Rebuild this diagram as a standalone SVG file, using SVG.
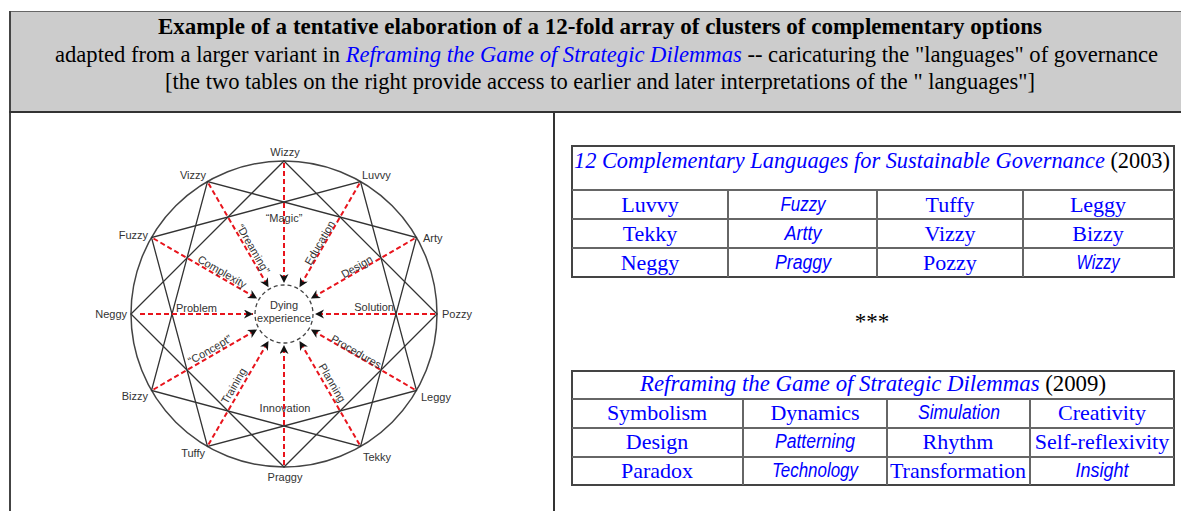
<svg xmlns="http://www.w3.org/2000/svg" width="1181" height="511" viewBox="0 0 1181 511">
<style>
.hd{font-family:"Liberation Serif","Times New Roman",serif;font-size:23px;fill:#000}
.lk{fill:#0000ff;font-style:italic}
.lb{font-family:"Liberation Sans",Arial,sans-serif;font-size:11px;fill:#333}
.cell{font-family:"Liberation Serif","Times New Roman",serif;font-size:22px;fill:#0000ff;text-anchor:middle}
.ci{font-family:"Liberation Sans",Arial,sans-serif;font-size:20px;font-style:italic;fill:#0000ff;text-anchor:middle}
.grid{stroke:#666;stroke-width:2;fill:none}
.frame{stroke:#444;stroke-width:2;fill:none}
.sq{fill:none;stroke:#333;stroke-width:1.3}
.rd{stroke:#e8141c;stroke-width:2;stroke-dasharray:5 3;fill:none;marker-end:url(#ah)}
</style>
<defs>
<marker id="ah" markerUnits="userSpaceOnUse" markerWidth="10" markerHeight="10" refX="9" refY="4.5" orient="auto">
<path d="M0,0 L9,4.5 L0,9 L2.6,4.5 Z" fill="#111"/>
</marker>
</defs>
<rect width="1181" height="511" fill="#fff"/>
<g id="frame">
<rect x="9" y="11" width="1172" height="101" fill="#cccccc"/>
<line x1="9" y1="11.5" x2="1181" y2="11.5" stroke="#666" stroke-width="1"/>
<line x1="10" y1="11" x2="10" y2="511" stroke="#444" stroke-width="2"/>
<line x1="9" y1="112" x2="1181" y2="112" stroke="#333" stroke-width="2"/>
<line x1="554" y1="113" x2="554" y2="511" stroke="#333" stroke-width="2"/>
</g>
<g id="header">
<text class="hd" x="158" y="34" font-weight="bold" textLength="884" lengthAdjust="spacingAndGlyphs">Example of a tentative elaboration of a 12-fold array of clusters of complementary options</text>
<text class="hd" x="55" y="62" textLength="1103" lengthAdjust="spacingAndGlyphs">adapted from a larger variant in <tspan class="lk">Reframing the Game of Strategic Dilemmas</tspan> -- caricaturing the "languages" of governance</text>
<text class="hd" x="165" y="89" textLength="870" lengthAdjust="spacingAndGlyphs">[the two tables on the right provide access to earlier and later interpretations of the " languages"]</text>
</g>
<g id="wheel">
<circle cx="284" cy="314" r="153" fill="none" stroke="#444" stroke-width="1.5"/>
<polygon class="sq" points="284,161 437,314 284,467 131,314"/>
<polygon class="sq" points="360.5,181.5 416.5,390.5 207.5,446.5 151.5,237.5"/>
<polygon class="sq" points="416.5,237.5 360.5,446.5 151.5,390.5 207.5,181.5"/>
<circle cx="284" cy="314" r="29" fill="none" stroke="#444" stroke-width="1.3" stroke-dasharray="4 3"/>
</g>
<g id="connectors">
<line class="rd" x1="284" y1="163" x2="284" y2="283"/>
<line class="rd" x1="359.5" y1="183.5" x2="299.5" y2="287.2"/>
<line class="rd" x1="414.5" y1="238.5" x2="310.9" y2="298.5"/>
<line class="rd" x1="435" y1="314" x2="315" y2="314"/>
<line class="rd" x1="414.5" y1="389.5" x2="310.9" y2="329.5"/>
<line class="rd" x1="359.5" y1="444.5" x2="299.5" y2="340.9"/>
<line class="rd" x1="284" y1="465" x2="284" y2="345"/>
<line class="rd" x1="208.5" y1="444.5" x2="268.5" y2="340.9"/>
<line class="rd" x1="153.5" y1="389.5" x2="257.1" y2="329.5"/>
<line class="rd" x1="140" y1="314" x2="253" y2="314"/>
<line class="rd" x1="153.5" y1="238.5" x2="257.1" y2="298.5"/>
<line class="rd" x1="208.5" y1="183.5" x2="268.5" y2="287.2"/>
</g>
<g id="labels">
<text class="lb" x="285" y="156" text-anchor="middle">Wizzy</text>
<text class="lb" x="362" y="179">Luvvy</text>
<text class="lb" x="423" y="242">Arty</text>
<text class="lb" x="442" y="318">Pozzy</text>
<text class="lb" x="421" y="401">Leggy</text>
<text class="lb" x="363" y="461">Tekky</text>
<text class="lb" x="285" y="481" text-anchor="middle">Praggy</text>
<text class="lb" x="205" y="457" text-anchor="end">Tuffy</text>
<text class="lb" x="148" y="400" text-anchor="end">Bizzy</text>
<text class="lb" x="127" y="318" text-anchor="end">Neggy</text>
<text class="lb" x="148" y="239" text-anchor="end">Fuzzy</text>
<text class="lb" x="206" y="179" text-anchor="end">Vizzy</text>
<text class="lb" x="284" y="222" text-anchor="middle">“Magic”</text>
<text class="lb" x="176" y="312">Problem</text>
<text class="lb" x="394" y="311" text-anchor="end">Solution</text>
<text class="lb" x="285" y="412" text-anchor="middle">Innovation</text>
<text class="lb" x="284" y="309" text-anchor="middle">Dying</text>
<text class="lb" x="284" y="322" text-anchor="middle">experience</text>
<text class="lb" text-anchor="middle" transform="translate(253,249) rotate(60)" y="3.5">“Dreaming”</text>
<text class="lb" text-anchor="middle" transform="translate(222,272) rotate(30)" y="3.5">Complexity</text>
<text class="lb" text-anchor="middle" transform="translate(320,243) rotate(-60)" y="3.5">Education</text>
<text class="lb" text-anchor="middle" transform="translate(357,267) rotate(-30)" y="3.5">Design</text>
<text class="lb" text-anchor="middle" transform="translate(356,352) rotate(30)" y="3.5">Procedures</text>
<text class="lb" text-anchor="middle" transform="translate(332,383) rotate(60)" y="3.5">Planning</text>
<text class="lb" text-anchor="middle" transform="translate(234,386) rotate(-60)" y="3.5">Training</text>
<text class="lb" text-anchor="middle" transform="translate(210,350) rotate(-30)" y="3.5">“Concept”</text>
</g>
<g id="table2003">
<rect class="frame" x="572" y="146" width="602" height="131"/>
<line class="grid" x1="572" y1="190" x2="1174" y2="190"/>
<line class="grid" x1="572" y1="219" x2="1174" y2="219"/>
<line class="grid" x1="572" y1="248" x2="1174" y2="248"/>
<line class="grid" x1="728" y1="190" x2="728" y2="277"/>
<line class="grid" x1="877" y1="190" x2="877" y2="277"/>
<line class="grid" x1="1023" y1="190" x2="1023" y2="277"/>
<text class="hd" x="574" y="168" font-size="22" textLength="596" lengthAdjust="spacingAndGlyphs"><tspan class="lk">12 Complementary Languages for Sustainable Governance</tspan> (2003)</text>
<text class="cell" x="650" y="212">Luvvy</text>
<text class="ci" x="803" y="211" textLength="45" lengthAdjust="spacingAndGlyphs">Fuzzy</text>
<text class="cell" x="950" y="212">Tuffy</text>
<text class="cell" x="1098" y="212">Leggy</text>
<text class="cell" x="650" y="241">Tekky</text>
<text class="ci" x="803" y="240" textLength="37" lengthAdjust="spacingAndGlyphs">Artty</text>
<text class="cell" x="950" y="241">Vizzy</text>
<text class="cell" x="1098" y="241">Bizzy</text>
<text class="cell" x="650" y="270">Neggy</text>
<text class="ci" x="803" y="269" textLength="56" lengthAdjust="spacingAndGlyphs">Praggy</text>
<text class="cell" x="950" y="270">Pozzy</text>
<text class="ci" x="1098" y="269" textLength="43" lengthAdjust="spacingAndGlyphs">Wizzy</text>
</g>
<text class="hd" x="872" y="329" text-anchor="middle" font-size="22">***</text>
<g id="table2009">
<rect class="frame" x="572" y="371" width="602" height="114"/>
<line class="grid" x1="572" y1="399" x2="1174" y2="399"/>
<line class="grid" x1="572" y1="428" x2="1174" y2="428"/>
<line class="grid" x1="572" y1="457" x2="1174" y2="457"/>
<line class="grid" x1="743" y1="399" x2="743" y2="485"/>
<line class="grid" x1="887" y1="399" x2="887" y2="485"/>
<line class="grid" x1="1030" y1="399" x2="1030" y2="485"/>
<text class="hd" x="640" y="391" font-size="22" textLength="466" lengthAdjust="spacingAndGlyphs"><tspan class="lk">Reframing the Game of Strategic Dilemmas</tspan> (2009)</text>
<text class="cell" x="657" y="420">Symbolism</text>
<text class="cell" x="815" y="420">Dynamics</text>
<text class="ci" x="959" y="419" textLength="82" lengthAdjust="spacingAndGlyphs">Simulation</text>
<text class="cell" x="1102" y="420">Creativity</text>
<text class="cell" x="657" y="449">Design</text>
<text class="ci" x="815" y="448" textLength="80" lengthAdjust="spacingAndGlyphs">Patterning</text>
<text class="cell" x="958" y="449">Rhythm</text>
<text class="cell" x="1102" y="449">Self-reflexivity</text>
<text class="cell" x="657" y="478">Paradox</text>
<text class="ci" x="815" y="477" textLength="86" lengthAdjust="spacingAndGlyphs">Technology</text>
<text class="cell" x="958" y="478">Transformation</text>
<text class="ci" x="1102" y="477" textLength="53" lengthAdjust="spacingAndGlyphs">Insight</text>
</g>
</svg>
